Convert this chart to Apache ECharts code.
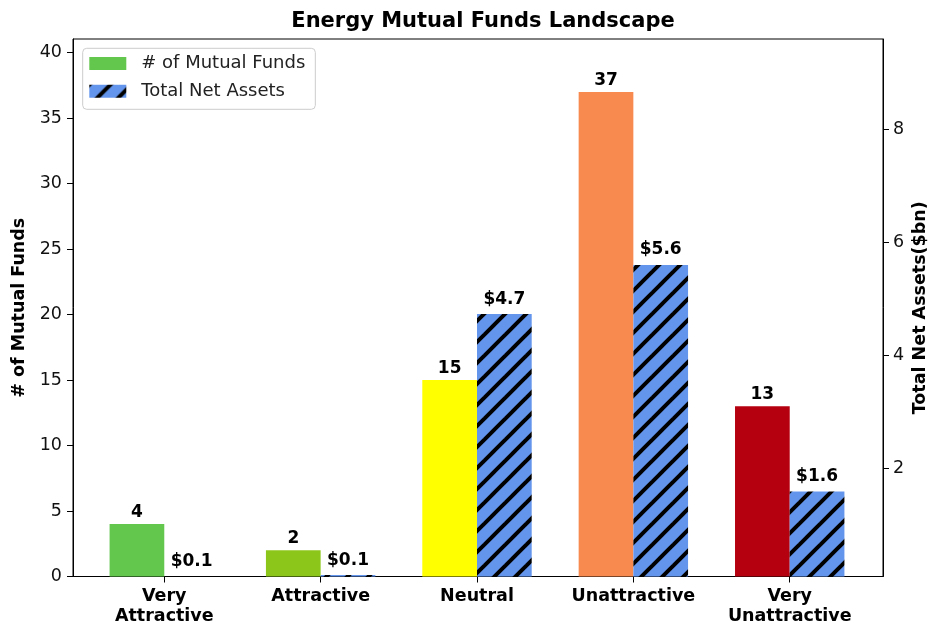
<!DOCTYPE html>
<html><head><meta charset="utf-8">
<script src="https://cdn.jsdelivr.net/npm/echarts@6/dist/echarts.min.js"></script>
<style>html,body{margin:0;padding:0;background:#fff}#c{width:928px;height:628px}</style>
</head><body><div id="c"></div>
<script>
const categories = ['Very\nAttractive', 'Attractive', 'Neutral', 'Unattractive', 'Very\nUnattractive'];
const fundCounts = [4, 2, 15, 37, 13];
const netAssets = [0.086, 0.11, 4.73, 5.6, 1.59];
const fundColors = ['#63c74e', '#8cc61b', '#ffff00', '#f88a50', '#b4000f'];
const leftTicks = [0, 5, 10, 15, 20, 25, 30, 35, 40];
const rightTicks = [2, 4, 6, 8];

function makeHatch() {
  const s = 21, e = 6;
  const c = document.createElement('canvas');
  c.width = s; c.height = s;
  const g = c.getContext('2d');
  g.fillStyle = '#6495ed';
  g.fillRect(0, 0, s, s);
  g.strokeStyle = '#000';
  g.lineWidth = 4;
  [-s, 0, s].forEach(x0 => {
    g.beginPath();
    g.moveTo(x0 - e, s + e);
    g.lineTo(x0 + s + e, -e);
    g.stroke();
  });
  return { image: c, repeat: 'repeat' };
}
const hatch = makeHatch();
const FONT = 'DejaVu Sans';
const TXT = '#111';

const chart = echarts.init(document.getElementById('c'));
chart.setOption({
  animation: false,
  textStyle: { fontFamily: FONT },
  title: {
    text: 'Energy Mutual Funds Landscape',
    left: 478, top: 6, textAlign: 'center',
    textStyle: { fontSize: 21, fontWeight: 'bold', color: '#000', fontFamily: FONT }
  },
  legend: {
    orient: 'vertical',
    left: 82.7, top: 48.3,
    icon: 'rect',
    itemWidth: 37, itemHeight: 13, itemGap: 9.7,
    padding: [6.3, 10, 9, 6.6],
    borderColor: '#cccccc', borderWidth: 1, borderRadius: 4,
    backgroundColor: 'rgba(255,255,255,0.8)',
    textStyle: { fontSize: 18, color: '#222', fontFamily: FONT, padding: [0, 0, 0, 10] },
    data: ['# of Mutual Funds', 'Total Net Assets']
  },
  grid: [
    { left: 86.1, right: 60.1, top: 39, bottom: 51.5, outerBoundsMode: 'none', containLabel: false },
    { left: 73, right: 45, top: 39, bottom: 51.5, outerBoundsMode: 'none', containLabel: false,
      show: true, borderColor: '#000', borderWidth: 1, backgroundColor: 'transparent' }
  ],
  xAxis: [
    {
      type: 'category', data: categories, gridIndex: 0,
      axisLine: { show: false },
      axisTick: { show: true, alignWithLabel: true, length: 6, lineStyle: { color: '#000' } },
      axisLabel: { interval: 0, fontSize: 17.5, fontWeight: 'bold', color: '#000', margin: 10, lineHeight: 20, fontFamily: FONT }
    },
    { type: 'value', gridIndex: 1, show: false }
  ],
  yAxis: [
    {
      type: 'value', gridIndex: 0, position: 'left', offset: 13.1, min: 0, max: 41.05,
      axisLine: { show: true, lineStyle: { color: '#000' } },
      axisTick: { show: true, length: 6, customValues: leftTicks, lineStyle: { color: '#000' } },
      axisLabel: { customValues: leftTicks, fontSize: 17.5, color: TXT, margin: 11, fontFamily: FONT },
      splitLine: { show: false },
      name: '# of Mutual Funds', nameLocation: 'middle', nameGap: 45, nameMoveOverlap: false,
      nameTextStyle: { fontWeight: 'bold', fontSize: 17.5, color: '#000', fontFamily: FONT }
    },
    {
      type: 'value', gridIndex: 0, position: 'right', offset: 15.1, min: 0.085, max: 9.6,
      axisLine: { show: true, lineStyle: { color: '#000' } },
      axisTick: { show: true, length: 6, customValues: rightTicks, lineStyle: { color: '#000' } },
      axisLabel: { customValues: rightTicks, fontSize: 17.5, color: TXT, margin: 10, fontFamily: FONT },
      splitLine: { show: false },
      name: 'Total Net Assets($bn)', nameLocation: 'middle', nameGap: 28, nameMoveOverlap: false,
      nameTextStyle: { fontWeight: 'bold', fontSize: 17.5, color: '#000', fontFamily: FONT }
    },
    { type: 'value', gridIndex: 1, show: false }
  ],
  series: [
    {
      name: '# of Mutual Funds', type: 'bar', xAxisIndex: 0, yAxisIndex: 0,
      barWidth: 54.7, barGap: '0%',
      itemStyle: { color: fundColors[0] },
      data: fundCounts.map((v, i) => ({ value: v, itemStyle: { color: fundColors[i] } })),
      label: { show: true, position: 'top', distance: 3, fontWeight: 'bold', fontSize: 17, color: '#000', fontFamily: FONT }
    },
    {
      name: 'Total Net Assets', type: 'bar', xAxisIndex: 0, yAxisIndex: 1,
      barWidth: 54.7, barGap: '0%',
      itemStyle: { color: hatch },
      data: netAssets,
      label: { show: true, position: 'top', distance: 6.5, fontWeight: 'bold', fontSize: 17, color: '#000', fontFamily: FONT,
        formatter: p => '$' + p.value.toFixed(1) }
    }
  ]
});
</script>
</body></html>
